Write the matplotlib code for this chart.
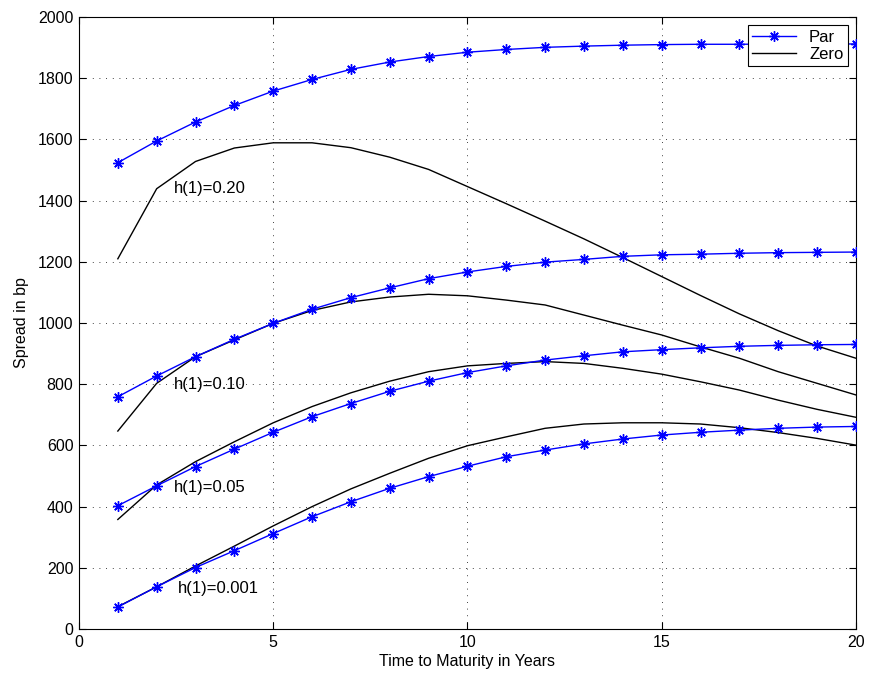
import matplotlib
matplotlib.use("Agg")
import matplotlib.pyplot as plt

plt.rcParams['font.family'] = ['Liberation Sans', 'DejaVu Sans']

years = list(range(1, 21))

par_020 = [1524, 1595, 1657, 1711, 1758, 1796, 1829, 1853, 1871, 1885, 1894, 1901, 1905, 1908, 1910, 1911, 1911, 1912, 1912, 1912]
zero_020 = [1210, 1439, 1528, 1572, 1589, 1589, 1573, 1542, 1502, 1446, 1390, 1333, 1275, 1214, 1152, 1090, 1030, 975, 925, 885]

par_010 = [759, 827, 890, 947, 999, 1045, 1083, 1115, 1145, 1167, 1185, 1199, 1208, 1218, 1223, 1225, 1228, 1230, 1231, 1232]
zero_010 = [647, 803, 890, 945, 999, 1041, 1069, 1085, 1094, 1089, 1075, 1059, 1026, 993, 961, 922, 885, 841, 803, 765]

par_005 = [403, 468, 531, 588, 643, 694, 737, 777, 810, 838, 860, 879, 893, 906, 913, 919, 924, 927, 929, 930]
zero_005 = [358, 471, 547, 612, 674, 727, 772, 810, 841, 860, 868, 874, 868, 852, 833, 808, 781, 748, 718, 692]

par_0001 = [72, 138, 201, 256, 312, 367, 416, 460, 498, 532, 563, 585, 605, 621, 634, 643, 650, 656, 660, 662]
zero_0001 = [73, 138, 206, 271, 337, 400, 458, 509, 558, 599, 628, 656, 670, 674, 674, 670, 658, 642, 623, 601]

labels = ["h(1)=0.20", "h(1)=0.10", "h(1)=0.05", "h(1)=0.001"]
label_x = [2.45, 2.45, 2.45, 2.55]
label_y = [1441, 800, 461, 134]

xticks = [0, 5, 10, 15, 20]
yticks = [0, 200, 400, 600, 800, 1000, 1200, 1400, 1600, 1800, 2000]

fig = plt.figure(figsize=(8.69, 6.79), dpi=100)
ax = fig.add_axes([0.0909, 0.0736, 0.894, 0.9013])

pars = [par_020, par_010, par_005, par_0001]
zeros = [zero_020, zero_010, zero_005, zero_0001]
for i, (p, z) in enumerate(zip(pars, zeros)):
    ax.plot(years, z, color='black', lw=1.0, label='Zero' if i == 0 else None, zorder=3)
    ax.plot(years, p, color='#0000ff', lw=1.0, marker=(8, 2, 0), ms=7.5, mew=1.0,
            label='Par' if i == 0 else None, zorder=4)

for t, x, y in zip(labels, label_x, label_y):
    ax.text(x, y, t, fontsize=12, va='center', ha='left')

ax.set_xlim(0, 20)
ax.set_ylim(0, 2000)
ax.set_xticks(xticks)
ax.set_yticks(yticks)
ax.tick_params(direction='in', top=True, right=True, labelsize=11.5, length=5, pad=4)
ax.grid(True, linestyle=(0, (1, 7)), color='black', lw=0.6)
ax.set_xlabel('Time to Maturity in Years', fontsize=11.5, labelpad=3)
ax.set_ylabel('Spread in bp', fontsize=11.5, labelpad=6)

handles, lbls = ax.get_legend_handles_labels()
order = [lbls.index('Par'), lbls.index('Zero')]
leg = ax.legend([handles[k] for k in order], [lbls[k] for k in order],
                loc='upper right', fontsize=12, frameon=True, fancybox=False,
                edgecolor='black', framealpha=1, borderpad=0.25, labelspacing=0.15,
                handlelength=2.6, handletextpad=0.8, borderaxespad=0.5)
leg.get_frame().set_linewidth(0.8)

fig.savefig('out.png', dpi=100)
